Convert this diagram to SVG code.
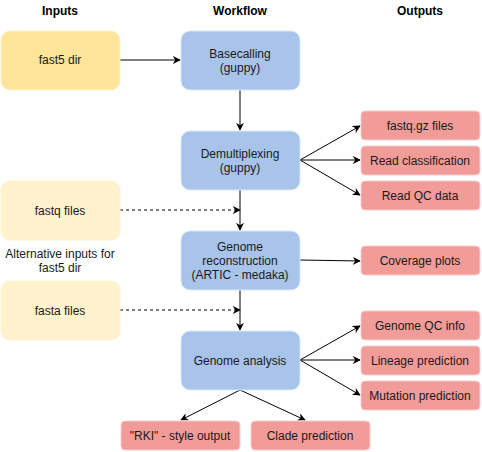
<svg xmlns="http://www.w3.org/2000/svg" width="482" height="452" viewBox="0 0 482 452">
<style>
text{font-family:"Liberation Sans",Arial,sans-serif;font-size:12px;fill:#1a1a1a;text-anchor:middle}
.h{font-weight:bold;fill:#000}
.in{fill:#FFE599;stroke:#FFF2CC;stroke-width:1}
.alt{fill:#FFF2CC;stroke:#FFF2CC;stroke-width:1}
.wf{fill:#A9C4EB;stroke:#DAE8FC;stroke-width:1}
.out{fill:#F19C99;stroke:#F8CECC;stroke-width:1}
.c{stroke:#000;stroke-width:1;fill:none;marker-end:url(#a)}
.d{stroke-dasharray:3 3}
</style>
<defs>
<marker id="a" viewBox="0 0 10 10" refX="9" refY="5" markerWidth="8" markerHeight="8" markerUnits="userSpaceOnUse" orient="auto">
<path d="M0,0 L10,5 L0,10 L3,5 Z" fill="#000"/>
</marker>
</defs>
<text class="h" x="60" y="15">Inputs</text>
<text class="h" x="240" y="15">Workflow</text>
<text class="h" x="420" y="15">Outputs</text>
<g id="connectors">
<path class="c" d="M120,60 H180"/>
<path class="c" d="M240,90 V130"/>
<path class="c" d="M300,160 L360,126"/>
<path class="c" d="M300,160 L360,160"/>
<path class="c" d="M300,160 L360,195"/>
<path class="c" d="M240,190 V230"/>
<path class="c d" d="M120,210 H240"/>
<path class="c" d="M300,260 L360,261"/>
<path class="c" d="M240,290 V330"/>
<path class="c d" d="M120,310 H240"/>
<path class="c" d="M300,360 L360,326"/>
<path class="c" d="M300,360 L360,360"/>
<path class="c" d="M300,360 L360,395"/>
<path class="c" d="M240,390 L181,420"/>
<path class="c" d="M240,390 L305,420"/>
</g>
<g id="fast5"><rect class="in" x="1" y="31" width="119" height="59" rx="9"/><text x="60" y="64">fast5 dir</text></g>
<g id="fastq"><rect class="alt" x="1" y="181" width="119" height="59" rx="9"/><text x="60" y="215">fastq files</text></g>
<g id="alt-label"><text x="60" y="258">Alternative inputs for</text><text x="60" y="272">fast5 dir</text></g>
<g id="fasta"><rect class="alt" x="1" y="281" width="119" height="59" rx="9"/><text x="60" y="315">fasta files</text></g>
<g id="basecalling"><rect class="wf" x="181" y="31" width="119" height="59" rx="9"/><text x="240" y="58">Basecalling</text><text x="240" y="72">(guppy)</text></g>
<g id="demux"><rect class="wf" x="181" y="131" width="119" height="59" rx="9"/><text x="240" y="158">Demultiplexing</text><text x="240" y="172">(guppy)</text></g>
<g id="reconstruction"><rect class="wf" x="181" y="231" width="119" height="59" rx="9"/><text x="240" y="251">Genome</text><text x="240" y="265">reconstruction</text><text x="240" y="279">(ARTIC - medaka)</text></g>
<g id="analysis"><rect class="wf" x="181" y="331" width="119" height="59" rx="9"/><text x="240" y="365">Genome analysis</text></g>
<g id="fastqgz"><rect class="out" x="361" y="111" width="119" height="29" rx="4"/><text x="420" y="130">fastq.gz files</text></g>
<g id="readclass"><rect class="out" x="361" y="146" width="119" height="29" rx="4"/><text x="420" y="165">Read classification</text></g>
<g id="readqc"><rect class="out" x="361" y="181" width="119" height="29" rx="4"/><text x="420" y="200">Read QC data</text></g>
<g id="coverage"><rect class="out" x="361" y="246" width="119" height="29" rx="4"/><text x="420" y="265">Coverage plots</text></g>
<g id="genomeqc"><rect class="out" x="361" y="311" width="119" height="29" rx="4"/><text x="420" y="330">Genome QC info</text></g>
<g id="lineage"><rect class="out" x="361" y="346" width="119" height="29" rx="4"/><text x="420" y="365">Lineage prediction</text></g>
<g id="mutation"><rect class="out" x="361" y="381" width="119" height="29" rx="4"/><text x="420" y="400">Mutation prediction</text></g>
<g id="rki"><rect class="out" x="121" y="421" width="119" height="29" rx="4"/><text x="180" y="440">"RKI" - style output</text></g>
<g id="clade"><rect class="out" x="251" y="421" width="119" height="29" rx="4"/><text x="310" y="440">Clade prediction</text></g>
</svg>
